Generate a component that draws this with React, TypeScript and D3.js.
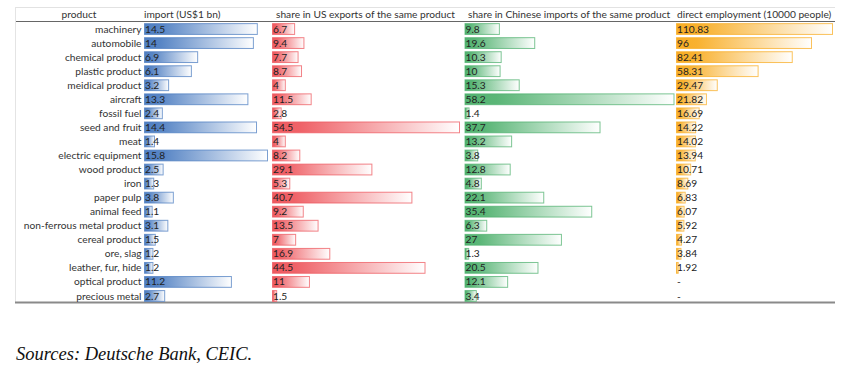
import React from "react";
import * as d3 from "d3";

const products = [
  "machinery", "automobile", "chemical product", "plastic product", "meidical product",
  "aircraft", "fossil fuel", "seed and fruit", "meat", "electric equipment",
  "wood product", "iron", "paper pulp", "animal feed", "non-ferrous metal product",
  "cereal product", "ore, slag", "leather, fur, hide", "optical product", "precious metal",
];
const importValues = [14.5, 14, 6.9, 6.1, 3.2, 13.3, 2.4, 14.4, 1.4, 15.8, 2.5, 1.3, 3.8, 1.1, 3.1, 1.5, 1.2, 1.2, 11.2, 2.7];
const usShare = [6.7, 9.4, 7.7, 8.7, 4, 11.5, 2.8, 54.5, 4, 8.2, 29.1, 5.3, 40.7, 9.2, 13.5, 7, 16.9, 44.5, 11, 1.5];
const cnShare = [9.8, 19.6, 10.3, 10, 15.3, 58.2, 1.4, 37.7, 13.2, 3.8, 12.8, 4.8, 22.1, 35.4, 6.3, 27, 1.3, 20.5, 12.1, 3.4];
const employment: (number | null)[] = [110.83, 96, 82.41, 58.31, 29.47, 21.82, 16.69, 14.22, 14.02, 13.94, 10.71, 8.69, 6.83, 6.07, 5.92, 4.27, 3.84, 1.92, null, null];
const headers = ["product", "import (US$1 bn)", "share in US exports of the same product", "share in Chinese imports of the same product", "direct employment (10000 people)"];
const source = "Sources: Deutsche Bank, CEIC.";

const FONT = "Lato, 'Open Sans', sans-serif";
const FS = 10.2;

export default function App() {
  const left = 15, right = 835;
  const top = 22, bottom = 303;
  const y = d3.scaleBand<string>().domain(products).range([top, bottom]).paddingInner(0.16).paddingOuter(0.08);
  const rowY = d3.scaleBand<string>().domain(products).range([top, bottom]);

  const cols = [
    { id: "blue", values: importValues as (number | null)[], x0: 144, w: 124, color: "#4f7fc2" },
    { id: "red", values: usShare as (number | null)[], x0: 272, w: 188, color: "#ee5a60" },
    { id: "green", values: cnShare as (number | null)[], x0: 464.5, w: 210, color: "#52b270" },
    { id: "orange", values: employment, x0: 676, w: 157, color: "#f8ad25" },
  ];

  return (
    <svg width={863} height={374} style={{ display: "block", position: "absolute", left: 0, top: 0 }}>
      <defs>
        {cols.map((c) => (
          <linearGradient key={c.id} id={"g-" + c.id} x1="0" x2="1" y1="0" y2="0">
            <stop offset="0" stopColor={c.color} />
            <stop offset="0.15" stopColor={c.color} stopOpacity={0.95} />
            <stop offset="1" stopColor="#ffffff" />
          </linearGradient>
        ))}
      </defs>
      <rect x={0} y={0} width={863} height={374} fill="#fff" />
      {/* table borders */}
      <line x1={left} x2={right} y1={7.5} y2={7.5} stroke="#e2e2e2" />
      <line x1={left} x2={right} y1={21.5} y2={21.5} stroke="#666" />
      <line x1={left + 0.5} x2={left + 0.5} y1={7} y2={bottom} stroke="#e4e4e4" />
      <line x1={left} x2={right} y1={bottom - 0.5} y2={bottom - 0.5} stroke="#8a8a8a" strokeWidth={2} />

      {/* headers */}
      <g fontFamily={FONT} fontSize={FS} fill="#333">
        <text x={79} y={18} textAnchor="middle">{headers[0]}</text>
        <text x={144} y={18}>{headers[1]}</text>
        <text x={276} y={18}>{headers[2]}</text>
        <text x={468} y={18}>{headers[3]}</text>
        <text x={677} y={18}>{headers[4]}</text>
      </g>

      {/* product labels */}
      <g fontFamily={FONT} fontSize={FS} fill="#333">
        {products.map((p) => (
          <text key={p} x={141.5} y={(rowY(p) as number) + rowY.bandwidth() / 2} dy="0.35em" textAnchor="end">{p}</text>
        ))}
      </g>

      {cols.map((c) => {
        const max = d3.max(c.values, (v) => (v == null ? 0 : v)) as number;
        const x = d3.scaleLinear().domain([0, max]).range([0, c.w]);
        return (
          <g key={c.id}>
            {products.map((p, i) => {
              const v = c.values[i];
              const yy = y(p) as number;
              const cy = (rowY(p) as number) + rowY.bandwidth() / 2;
              return (
                <g key={p}>
                  {v != null && (
                    <rect x={c.x0 + 0.5} y={yy + 0.5} width={Math.max(0, x(v) - 1)} height={y.bandwidth() - 1}
                      fill={`url(#g-${c.id})`} stroke={c.color} strokeOpacity={0.75} strokeWidth={1} />
                  )}
                  <text x={c.x0 + 1} y={cy} dy="0.35em" fontFamily={FONT} fontSize={FS} fill="#222">
                    {v == null ? "-" : String(v)}
                  </text>
                </g>
              );
            })}
          </g>
        );
      })}

      <text x={16} y={360} fontFamily="'Liberation Serif', 'Times New Roman', serif" fontStyle="italic" fontSize={18.5} fill="#111">{source}</text>
    </svg>
  );
}
